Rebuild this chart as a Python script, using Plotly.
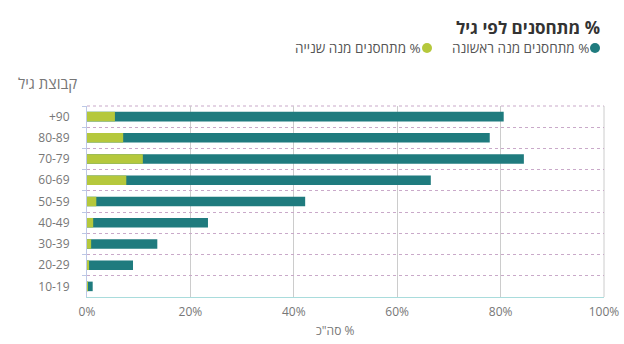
import plotly.graph_objects as go

categories = ["+90", "80-89", "70-79", "60-69", "50-59", "40-49", "30-39", "20-29", "10-19"]
first_dose = [80.6, 77.9, 84.5, 66.5, 42.2, 23.4, 13.6, 8.9, 1.1]
second_dose = [5.4, 7.0, 10.8, 7.6, 1.8, 1.2, 0.8, 0.4, 0.1]
x_ticks = [0, 20, 40, 60, 80, 100]
x_tick_labels = ["0%", "20%", "40%", "60%", "80%", "100%"]

TEAL = "#1f7b7e"
LIME = "#b5c83c"
RLM = "\u200f"
FONT = "Open Sans, Noto Sans, DejaVu Sans, sans-serif"

fig = go.Figure()
fig.add_trace(go.Bar(y=categories, x=first_dose, orientation="h", marker_color=TEAL,
                     marker_line_width=0, width=0.45, name="% מתחסנים מנה ראשונה"))
fig.add_trace(go.Bar(y=categories, x=second_dose, orientation="h", marker_color=LIME,
                     marker_line_width=0, width=0.45, name="% מתחסנים מנה שנייה"))

L, R, T, B = 87, 20, 106, 47
W, H = 624, 344
pw, ph = W - L - R, H - T - B

def px(x):
    return (x - L) / pw

def py(y):
    return (H - B - y) / ph

fig.update_layout(
    width=W, height=H,
    margin=dict(l=L, r=R, t=T, b=B, autoexpand=False),
    barmode="overlay",
    showlegend=False,
    plot_bgcolor="white", paper_bgcolor="white",
    font=dict(family=FONT, size=12, color="#666"),
    title=dict(text=RLM + "% מתחסנים לפי גיל", x=600 / W, xanchor="right",
               y=1 - 28 / H, yanchor="middle",
               font=dict(family=FONT, size=17, color="#333", weight="bold")),
)
fig.update_xaxes(range=[0, 100], tickvals=x_ticks, ticktext=x_tick_labels,
                 showgrid=True, gridcolor="#cccccc", gridwidth=1,
                 showline=True, linecolor="#a9dcdc", linewidth=1,
                 ticks="", zeroline=False, ticklabelstandoff=4, automargin=False,
                 tickfont=dict(size=12, color="#777"), fixedrange=True)
fig.update_yaxes(categoryorder="array", categoryarray=categories, autorange="reversed",
                 tickson="boundaries", showgrid=True, gridcolor="#c9a9c9", griddash="dot",
                 gridwidth=1, showline=True, linecolor="#bcc8e6", linewidth=1,
                 ticks="outside", ticklen=4, tickcolor="#bcc8e6",
                 ticklabelstandoff=14, automargin=False,
                 tickfont=dict(size=12, color="#777"), fixedrange=True)

# frame lines that close the plot area (top dotted like row grid, right solid like column grid)
fig.add_shape(type="line", xref="paper", yref="paper", x0=0, x1=1, y0=1, y1=1,
              line=dict(color="#c9a9c9", width=1, dash="dot"), layer="below")
fig.add_shape(type="line", xref="paper", yref="paper", x0=1, x1=1, y0=0, y1=1,
              line=dict(color="#cccccc", width=1), layer="below")

# legend swatches (circles), drawn as pixel-sized shapes
for cx, color in [(595, TEAL), (427, LIME)]:
    fig.add_shape(type="circle", xref="paper", yref="paper",
                  xsizemode="pixel", ysizemode="pixel",
                  xanchor=px(cx), yanchor=py(48),
                  x0=-5, x1=5, y0=-5, y1=5,
                  fillcolor=color, line=dict(width=0))

annotations = [
    dict(x=px(47), y=py(83), xref="paper", yref="paper", xanchor="center", yanchor="middle",
         text="קבוצת גיל", showarrow=False, font=dict(size=15, color="#777")),
    dict(x=px(335), y=py(330), xref="paper", yref="paper", xanchor="center", yanchor="middle",
         text=RLM + '% סה"כ', showarrow=False, font=dict(size=12, color="#777")),
    dict(x=px(591), y=py(48), xref="paper", yref="paper", xanchor="right", yanchor="middle",
         text=RLM + "% מתחסנים מנה ראשונה", showarrow=False, font=dict(size=13.5, color="#555")),
    dict(x=px(423), y=py(48), xref="paper", yref="paper", xanchor="right", yanchor="middle",
         text=RLM + "% מתחסנים מנה שנייה", showarrow=False, font=dict(size=13.5, color="#555")),
]
fig.update_layout(annotations=annotations)

fig.write_html("out.html")
